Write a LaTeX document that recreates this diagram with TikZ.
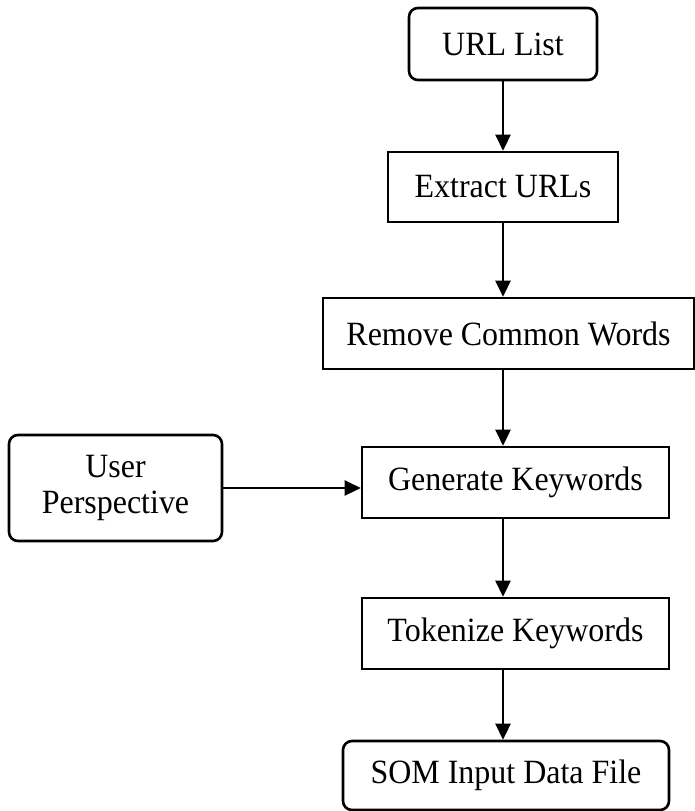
\documentclass[tikz,border=0pt]{standalone}
\usepackage{fontspec}
\setmainfont{Liberation Serif}[FakeStretch=0.94]
\usetikzlibrary{arrows.meta}
\begin{document}
\begin{tikzpicture}[x=1pt,y=-1pt,
  font=\fontsize{34}{38}\selectfont,
  box/.style={draw, line width=2.6pt, inner sep=0pt, align=center},
  rbox/.style={box, rounded corners=9pt},
  arr/.style={line width=2.6pt, -{Triangle[length=16pt,width=15pt]}}]
\useasboundingbox (0,0) rectangle (695,811);
% process steps
\node[rbox, minimum width=188pt, minimum height=72pt] (url) at (503,44) {URL List};
\node[box, minimum width=230pt, minimum height=70pt] (ext) at (503,187) {Extract URLs};
\node[box, minimum width=371pt, minimum height=71pt] (rem) at (508.5,333.5) {Remove Common Words};
\node[box, minimum width=307pt, minimum height=71pt] (gen) at (515.5,482.5) {Generate Keywords};
\node[rbox, minimum width=213pt, minimum height=106pt] (usr) at (115.5,488) {User\\[-2pt]Perspective};
\node[box, minimum width=307pt, minimum height=71pt] (tok) at (515.5,633.5) {Tokenize Keywords};
\node[rbox, minimum width=326pt, minimum height=69pt] (som) at (506,775.5) {SOM Input Data File};
% flow
\draw[arr] (url.south) -- (url.south |- ext.north);
\draw[arr] (url.south |- ext.south) -- (url.south |- rem.north);
\draw[arr] (url.south |- rem.south) -- (url.south |- gen.north);
\draw[arr] (usr.east) -- (usr.east -| gen.west);
\draw[arr] (url.south |- gen.south) -- (url.south |- tok.north);
\draw[arr] (url.south |- tok.south) -- (url.south |- som.north);
\end{tikzpicture}
\end{document}
